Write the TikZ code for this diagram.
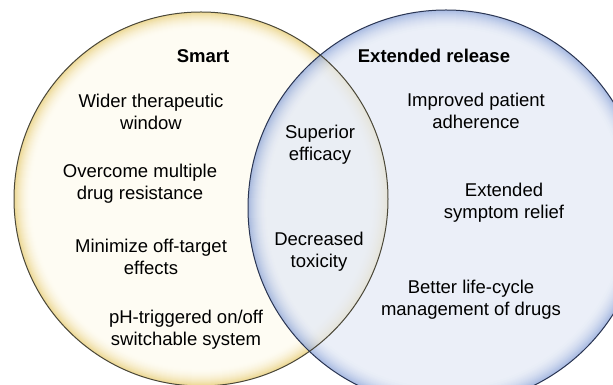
\documentclass[tikz,border=0pt]{standalone}
\usepackage{fontspec}
\setmainfont{Liberation Sans}
\definecolor{lin}{HTML}{FEFCF3}
\definecolor{ledge}{HTML}{EDD894}
\definecolor{rin}{HTML}{E3E9F5}
\definecolor{redge}{HTML}{869FD6}
\definecolor{lline}{HTML}{4A4738}
\definecolor{rline}{HTML}{2A3552}
\tikzset{
  lbl/.style={align=center, inner sep=0pt, font=\fontsize{18.5pt}{22pt}\selectfont},
  ttl/.style={lbl, font=\fontsize{18.5pt}{22pt}\selectfont\bfseries}
}
\begin{document}
\begin{tikzpicture}[x=1pt,y=1pt]
\useasboundingbox (0,0) rectangle (613,385);
\begin{scope}
\clip (0,0) rectangle (613,385);
\coordinate (lc) at (201,186);
\coordinate (rc) at (446,177);
\foreach \d [evaluate=\d as \p using {int(100*(1-\d/18)^2)}] in {0,...,18}
  \fill[ledge!\p!lin] (lc) circle[radius=187-\d];
\begin{scope}[transparency group, opacity=0.72]
\foreach \d [evaluate=\d as \p using {int(100*(1-\d/20)^2)}] in {0,...,20}
  \fill[redge!\p!rin] (rc) circle[radius=198-\d];
\end{scope}
\draw[lline, line width=1pt] (lc) circle[radius=187];
\draw[rline, line width=1pt] (rc) circle[radius=198];
\end{scope}
\node[ttl] (smart) at (203,329) {Smart};
\node[ttl] (ext) at (434,329) {Extended release};
\node[lbl] (wider) at (151,273) {Wider therapeutic\\window};
\node[lbl] (overcome) at (140,201) {Overcome multiple\\drug resistance};
\node[lbl] (minimize) at (151,128) {Minimize off-target\\effects};
\node[lbl] (ph) at (186,55) {pH-triggered on/off\\switchable system};
\node[lbl] (superior) at (320,240) {Superior\\efficacy};
\node[lbl] (decreased) at (319,133) {Decreased\\toxicity};
\node[lbl] (improved) at (476,274) {Improved patient\\adherence};
\node[lbl] (extsym) at (504,182) {Extended\\symptom relief};
\node[lbl] (better) at (471,85) {Better life-cycle\\management of drugs};
\end{tikzpicture}
\end{document}
